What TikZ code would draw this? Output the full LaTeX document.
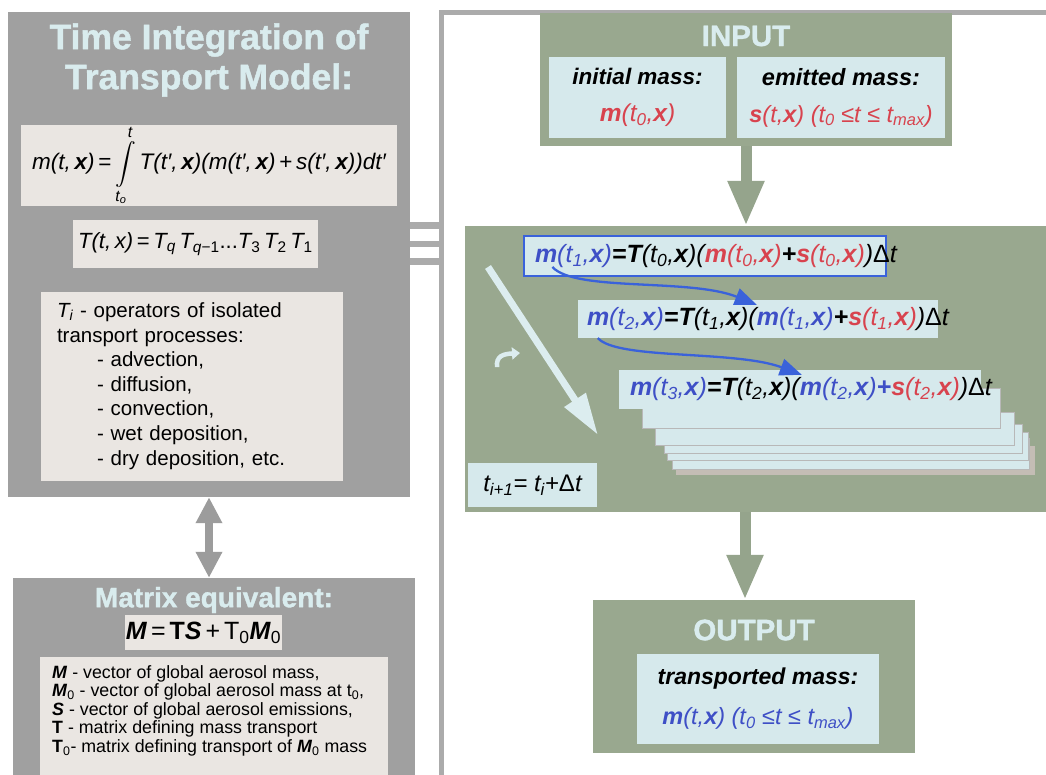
\documentclass[tikz,border=0pt]{standalone}
\usepackage{fontspec}
\setmainfont{Liberation Sans}
\newfontfamily\heavy[FakeBold=1.2]{Liberation Sans Bold}
\usepackage{amsmath}
\usetikzlibrary{arrows.meta,calc}
\definecolor{pgray}{HTML}{A0A0A0}
\definecolor{fgray}{HTML}{ABABAB}
\definecolor{beige}{HTML}{EAE6E2}
\definecolor{ttl}{HTML}{D9ECEE}
\definecolor{pgreen}{HTML}{99A88F}
\definecolor{lblue}{HTML}{D6E9EC}
\definecolor{ered}{HTML}{D8434E}
\definecolor{eblue}{HTML}{3E4FC6}
\definecolor{ablue}{HTML}{3A62DA}
\definecolor{shad}{HTML}{C4BDB5}
\definecolor{darrow}{HTML}{9C9C9C}
\definecolor{garrow}{HTML}{95A48C}
\definecolor{warrow}{HTML}{DCEDEF}
\newcommand\bi[1]{\textbf{\textit{#1}}}
\newcommand\sbx[1]{\textsubscript{#1}}
\newcommand\fs[2]{\fontsize{#1}{#2}\selectfont}
\begin{document}
\begin{tikzpicture}[x=1pt,y=-1pt,
  panel/.style={fill=pgray, draw=none, inner sep=0pt},
  gpanel/.style={fill=pgreen, draw=none, inner sep=0pt},
  bbox/.style={fill=beige, draw=none, inner sep=0pt},
  lbox/.style={fill=lblue, draw=none, inner sep=0pt},
  card/.style={fill=lblue, draw=black!28, line width=0.5pt},
  ttltext/.style={text=ttl, inner sep=0pt},
  eqbox/.style={fill=lblue, inner ysep=0pt, anchor=center},
  framel/.style={draw=fgray, line width=5pt},
  bigarrow/.style={draw=garrow, line width=11pt, -{Triangle[length=45pt,width=34pt]}},
  dblarrow/.style={draw=darrow, line width=8pt, {Triangle[length=26pt,width=25pt]}-{Triangle[length=26pt,width=25pt]}},
  bluearrow/.style={draw=ablue, line width=2.3pt, -{Triangle[length=22pt,width=17pt]}},
  lightarrow/.style={draw=warrow, line width=7pt, -{Triangle[length=42pt,width=24pt]}}
]
\clip (0,0) rectangle (1046,774);
\fill[white] (0,0) rectangle (1046,774);

% right frame
\coordinate (frc) at (441.5,12.5);
\draw[framel] (441.5,790) -- (frc) -- (1050,12.5);

% ---------- left panel ----------
\node[panel, minimum width=402pt, minimum height=485pt] (lp) at (209,254.5) {};
\node[ttltext, align=center, font=\heavy\fs{35.5}{40}] (title) at (209,60) {Time Integration of\\Transport Model:};
\node[bbox, minimum width=376pt, minimum height=79pt] (f1) at (209,165.5)
  {\fs{22.5}{25}\itshape m(t,\,\bi{x})\,\textup{=}\,$\displaystyle\int\limits_{\text{\itshape t\sbx{o}}}^{\text{\itshape t}}$\,T(t′,\,\bi{x})(m(t′,\,\bi{x})\,\textup{+}\,s(t′,\,\bi{x}))dt′};
\node[bbox, minimum width=245pt, minimum height=48pt] (f2) at (195.5,244)
  {\fs{22}{25}\itshape T(t,\,x)\,\textup{=}\,T\sbx{q}\,T\sbx{q\textup{−1}}\textup{...}T\sbx{\textup{3}}\,T\sbx{\textup{2}}\,T\sbx{\textup{1}}};
\node[bbox, minimum width=302pt, minimum height=189pt, text width=270pt, inner xsep=16pt, align=left, font=\fs{20.5}{24.6}] (tb) at (192,386)
  {\textit{T\sbx{i}} - operators of isolated\\
   transport processes:\\
   \hspace*{40pt}- advection,\\
   \hspace*{40pt}- diffusion,\\
   \hspace*{40pt}- convection,\\
   \hspace*{40pt}- wet deposition,\\
   \hspace*{40pt}- dry deposition, etc.};

% bars to frame
\foreach \yy in {225.5,244,261.5}
  \draw[draw=fgray, line width=6.5pt] (lp.east |- 0,\yy) -- (frc |- 0,\yy);

% ---------- bottom-left panel ----------
\node[panel, minimum width=402pt, minimum height=212pt] (bp) at (214,684) {};
\draw[dblarrow] (lp.south) -- (lp.south |- bp.north);
\node[ttltext, font=\heavy\fs{28}{32}] (mtitle) at (214,600) {Matrix equivalent:};
\node[bbox, minimum width=157pt, minimum height=35pt] (mf) at (203.5,632.5)
  {\fs{25}{30}\bi{M}\hspace{4pt}=\hspace{4pt}\textbf{T}\bi{S}\hspace{4pt}+\hspace{4pt}T\sbx{0}\bi{M}\sbx{0}};
\node[bbox, minimum width=348pt, minimum height=133pt] (mtb) at (214,723.5) {};
\node[anchor=north west, inner sep=0pt, align=left, font=\fs{17.8}{18.6}] (mtxt) at (52,665)
  {\bi{M} - vector of global aerosol mass,\\
   \bi{M}\sbx{0} - vector of global aerosol mass at t\sbx{0},\\
   \bi{S} - vector of global aerosol emissions,\\
   \textbf{T} - matrix defining mass transport\\
   \textbf{T}\sbx{0}- matrix defining transport of \bi{M}\sbx{0} mass};

% ---------- INPUT ----------
\node[gpanel, minimum width=412pt, minimum height=133pt] (inp) at (746,79.5) {};
\node[ttltext, font=\heavy\fs{29.5}{32}] (intitle) at (746,36) {INPUT};
\node[lbox, minimum width=177pt, minimum height=81pt, align=center, font=\fs{22.5}{37}] (il) at (637.5,97.5)
  {\bi{initial mass:}\\ {\color{ered}\fs{24.5}{37}\itshape\bi{m}(t\sbx{0},\bi{x})}};
\node[lbox, minimum width=208pt, minimum height=81pt, align=center, font=\fs{23.5}{37}] (ir) at (841,97.5)
  {\bi{emitted mass:}\\ {\color{ered}\fs{23.5}{37}\itshape\bi{s}(t,\bi{x}) (t\sbx{0} ≤t ≤ t\sbx{max})}};

% ---------- middle ----------
\node[gpanel, minimum width=585pt, minimum height=286pt] (mb) at (757.5,369) {};
\draw[bigarrow] (inp.south) -- (inp.south |- mb.north);

% stacked cards
\fill[shad] (676,446) rectangle (1035,475);
\path[card] (672,438) rectangle (1029,469);
\path[card] (667,432) rectangle (1028,460);
\path[card] (664,424) rectangle (1022,453);
\path[card] (655,412) rectangle (1014,445);
\path[card] (642,388) rectangle (1000,428);

\node[eqbox, draw=ablue, line width=1.2pt, minimum width=362pt, minimum height=40pt, inner xsep=11pt] (eq1) at (705,256)
  {\makebox[340pt][l]{\fs{25}{26}\itshape{\color{eblue}\bi{m}(t\sbx{1},\bi{x})}\textbf{=}\bi{T}(t\sbx{0},\bi{x})({\color{ered}\bi{m}(t\sbx{0},\bi{x})}\textbf{+}{\color{ered}\bi{s}(t\sbx{0},\bi{x})})\textup{Δ}t}};
\node[eqbox, minimum width=360pt, minimum height=38pt, inner xsep=9pt] (eq2) at (758,319)
  {\makebox[342pt][l]{\fs{25}{26}\itshape{\color{eblue}\bi{m}(t\sbx{2},\bi{x})}\textbf{=}\bi{T}(t\sbx{1},\bi{x})({\color{eblue}\bi{m}(t\sbx{1},\bi{x})}\textbf{+}{\color{ered}\bi{s}(t\sbx{1},\bi{x})})\textup{Δ}t}};
\node[eqbox, minimum width=362pt, minimum height=39pt, inner xsep=11pt] (eq3) at (800,389.5)
  {\makebox[340pt][l]{\fs{25}{26}\itshape{\color{eblue}\bi{m}(t\sbx{3},\bi{x})}\textbf{=}\bi{T}(t\sbx{2},\bi{x})({\color{eblue}\bi{m}(t\sbx{2},\bi{x})\textbf{+}}{\color{ered}\bi{s}(t\sbx{2},\bi{x})})\textup{Δ}t}};

\draw[bluearrow] ($(eq1.west)+(29,11)$) .. controls (575,292) and (690,278) .. ($(eq2.north west)+(179,5)$);
\draw[bluearrow] ($(eq2.west)+(20,19)$) .. controls (617,360) and (735,350) .. ($(eq3.north west)+(183,5)$);

% diagonal light arrow and small hook
\draw[lightarrow] (488,267) -- (598,435);
\draw[draw=warrow, line width=4.5pt, -{Triangle[length=8pt,width=12pt]}] (497,367) .. controls (496,356) and (503,354) .. (520,353);

\node[lbox, minimum width=129pt, minimum height=44pt] (tstep) at (532.5,485)
  {\fs{24}{28}\itshape t\sbx{i+1}= t\sbx{i}+\textup{Δ}t};

% ---------- OUTPUT ----------
\node[gpanel, minimum width=322pt, minimum height=153pt] (out) at (754,676.5) {};
\draw[bigarrow] ([xshift=-9pt]out.north |- mb.south) -- ([xshift=-9pt]out.north);
\node[ttltext, font=\heavy\fs{29.5}{32}] (outtitle) at (754,630) {OUTPUT};
\node[lbox, minimum width=242pt, minimum height=90pt, align=center, font=\fs{23}{40}] (oin) at (758,699)
  {\bi{transported mass:}\\ {\color{eblue}\itshape\fs{23.5}{40}\bi{m}(t,\bi{x}) (t\sbx{0} ≤t ≤ t\sbx{max})}};
\end{tikzpicture}
\end{document}
